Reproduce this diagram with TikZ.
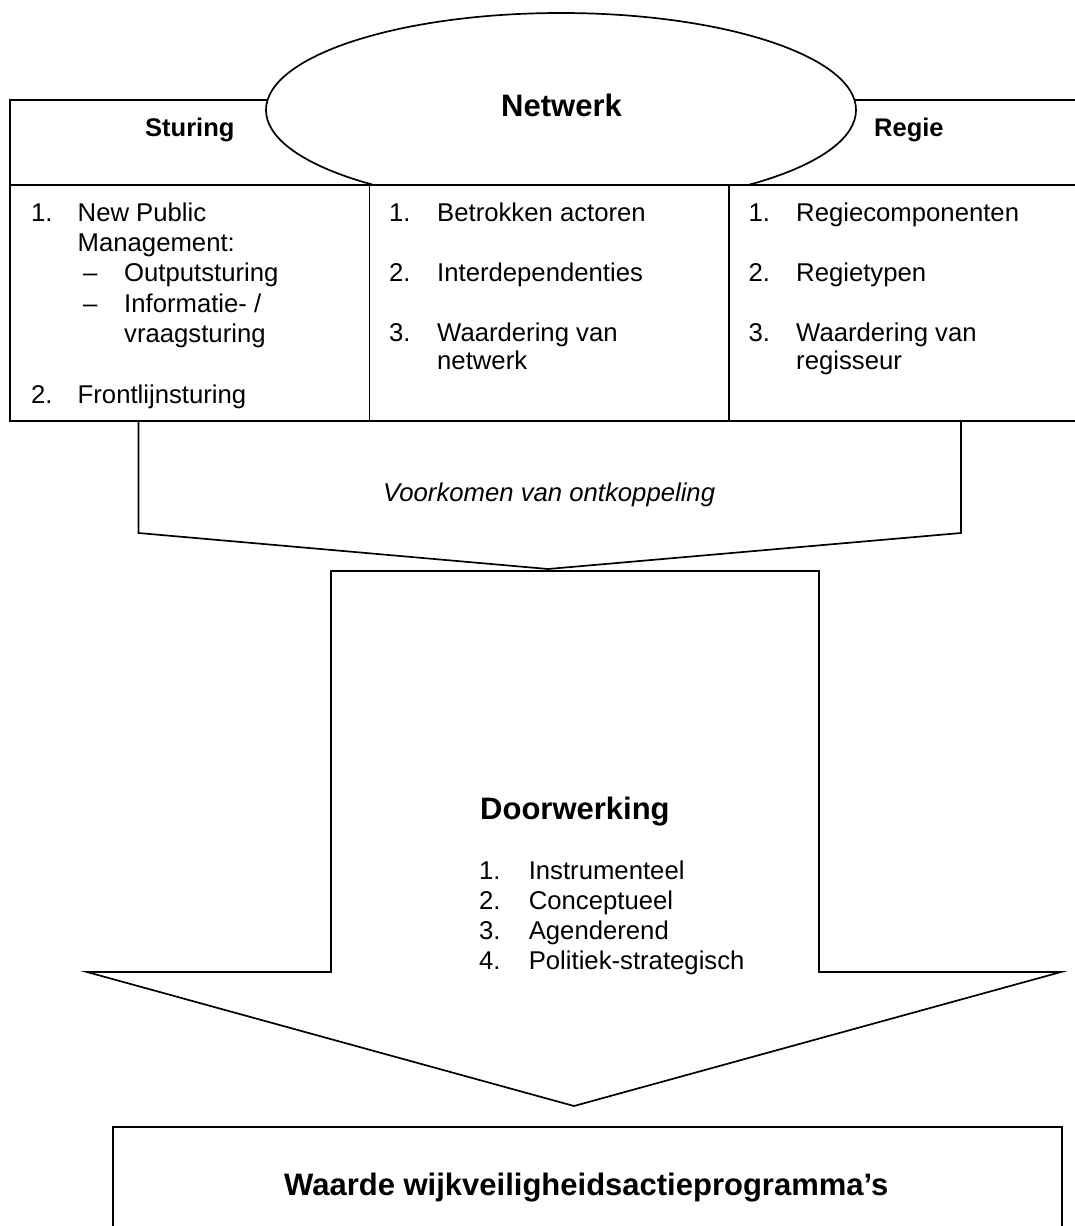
\documentclass[tikz,border=0pt]{standalone}
\usepackage{fontspec}
\setmainfont{Liberation Sans}
\begin{document}
\begin{tikzpicture}[x=1pt,y=-1pt,
  outline/.style={draw=black, line width=1.7pt, line join=miter},
  body/.style={font=\fontsize{25.7}{30}\selectfont, anchor=base west, inner sep=0pt},
  bodyit/.style={font=\fontsize{25.7}{30}\selectfont\itshape, anchor=base west, inner sep=0pt},
  head/.style={font=\fontsize{25.5}{30}\selectfont\bfseries, anchor=base west, inner sep=0pt},
  big/.style={font=\fontsize{31}{36}\selectfont\bfseries, anchor=base west, inner sep=0pt}]
\useasboundingbox (0,0) rectangle (1075,1226);
\clip (0,0) rectangle (1075,1226);
\fill[white] (0,0) rectangle (1075,1226);
% header frame
\draw[outline] (1090,100) -- (10,100) -- (10,421) -- (1090,421);
% ellipse
\draw[outline, fill=white] (561,110) ellipse [x radius=295, y radius=97];
% table body
\draw[outline, fill=white] (10,185) rectangle (1090,421);
\draw[outline] (369.5,185) -- (369.5,421);
\draw[outline] (729,185) -- (729,421);
% chevron
\draw[outline, fill=white] (138.5,421) -- (138.5,533) -- (548,569) -- (961,533) -- (961,421) -- cycle;
% big arrow
\draw[outline, fill=white] (331,571) -- (819,571) -- (819,972) -- (1061,972) -- (574,1106) -- (87,972) -- (331,972) -- cycle;
% bottom box
\draw[outline] (113,1240) -- (113,1127) -- (1062,1127) -- (1062,1240);

% header texts
\node[big] (netwerk) at (501,116) {Netwerk};
\node[head] (sturing) at (145,136.5) {Sturing};
\node[head] (regie) at (874,136) {Regie};

% column 1
\node[body] (c1n1) at (31,221) {1.};
\node[body] (c1t1) at (77.5,221) {New Public};
\node[body] (c1t1b) at (77.5,251) {Management:};
\node[body] (c1d1) at (83,281.5) {–};
\node[body] (c1s1) at (124,281.5) {Outputsturing};
\node[body] (c1d2) at (83,312) {–};
\node[body] (c1s2) at (124,312) {Informatie- /};
\node[body] (c1s2b) at (124,342) {vraagsturing};
\node[body] (c1n2) at (31,403) {2.};
\node[body] (c1t2) at (77.5,403) {Frontlijnsturing};

% column 2
\node[body] (c2n1) at (389,221) {1.};
\node[body] (c2t1) at (437,221) {Betrokken actoren};
\node[body] (c2n2) at (389,281.5) {2.};
\node[body] (c2t2) at (437,281.5) {Interdependenties};
\node[body] (c2n3) at (389,341) {3.};
\node[body] (c2t3) at (437,341) {Waardering van};
\node[body] (c2t3b) at (437,369) {netwerk};

% column 3
\node[body] (c3n1) at (748.5,221) {1.};
\node[body] (c3t1) at (796,221) {Regiecomponenten};
\node[body] (c3n2) at (748.5,281.5) {2.};
\node[body] (c3t2) at (796,281.5) {Regietypen};
\node[body] (c3n3) at (748.5,341) {3.};
\node[body] (c3t3) at (796,341) {Waardering van};
\node[body] (c3t3b) at (796,369) {regisseur};

% chevron text
\node[bodyit] (ontk) at (383,501.5) {Voorkomen van ontkoppeling};

% doorwerking
\node[big] (doorw) at (480,819) {Doorwerking};
\node[body] (dn1) at (479,879) {1.};
\node[body] (dt1) at (528.6,879) {Instrumenteel};
\node[body] (dn2) at (479,909.5) {2.};
\node[body] (dt2) at (528.6,909.5) {Conceptueel};
\node[body] (dn3) at (479,939) {3.};
\node[body] (dt3) at (528.6,939) {Agenderend};
\node[body] (dn4) at (479,969) {4.};
\node[body] (dt4) at (528.6,969) {Politiek-strategisch};

% bottom box text
\node[big] (waarde) at (284,1195.5) {Waarde wijkveiligheidsactieprogramma’s};
\end{tikzpicture}
\end{document}
